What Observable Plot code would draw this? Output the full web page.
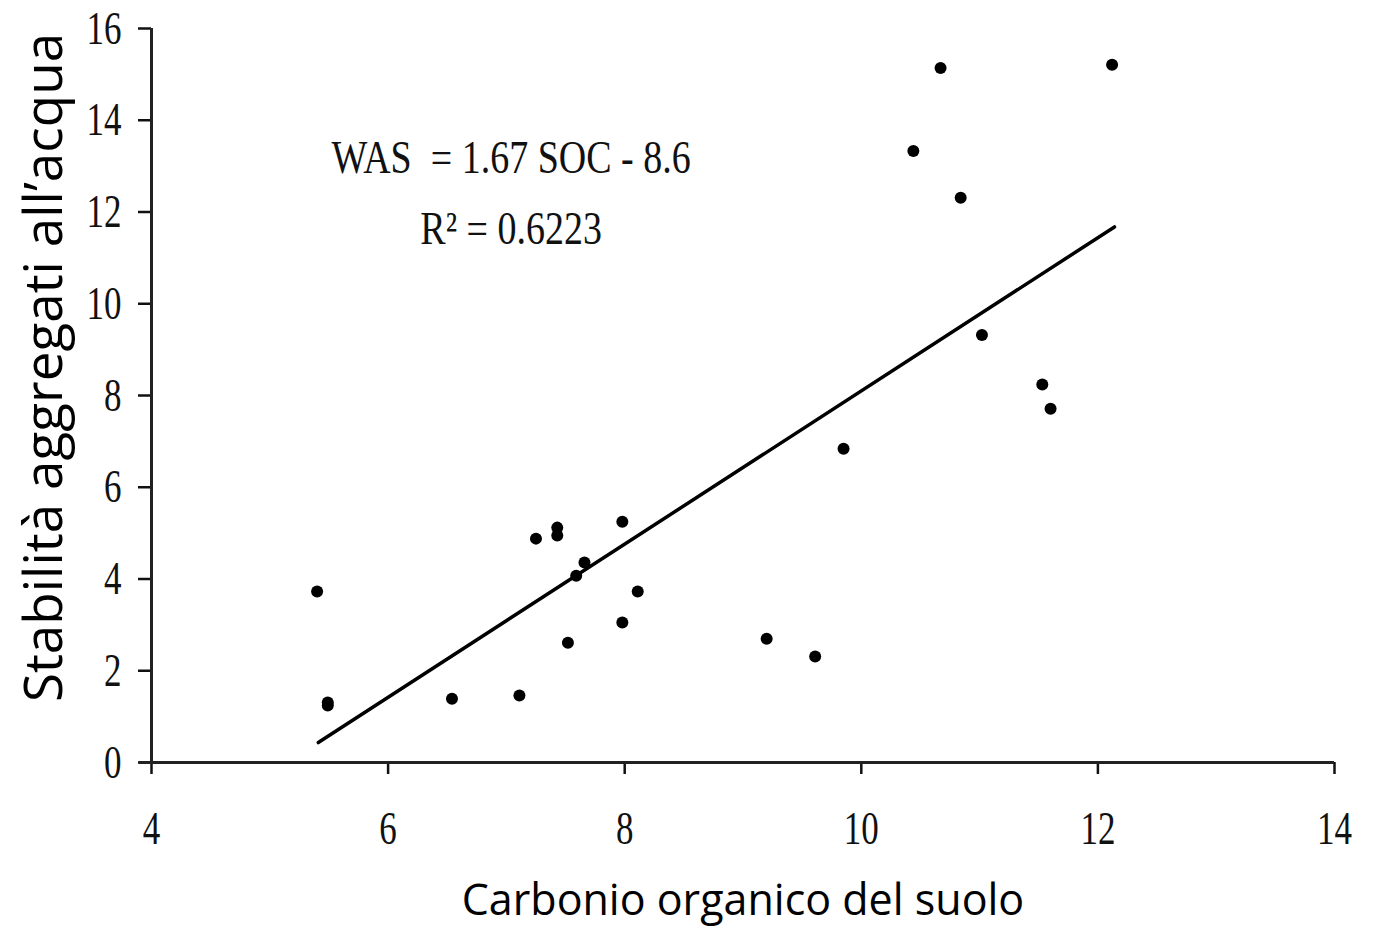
<!DOCTYPE html>
<html><head><meta charset="utf-8">
<script src="https://cdn.jsdelivr.net/npm/d3@7"></script>
<script src="https://cdn.jsdelivr.net/npm/@observablehq/plot@0.6"></script>
<style>
html,body{margin:0;padding:0;background:#fff;}
#chart svg{display:block;}
</style></head><body><div id="chart"></div>
<script>
const socValues = [5.40, 5.49, 5.49, 6.54, 7.11, 7.25, 7.43, 7.43, 7.52, 7.59, 7.66, 7.98, 7.98, 8.11, 9.20, 9.61, 9.85, 10.44, 10.67, 10.84, 11.02, 11.53, 11.60, 12.12];
const wasValues = [3.73, 1.31, 1.24, 1.39, 1.46, 4.88, 5.12, 4.95, 2.61, 4.07, 4.36, 5.25, 3.05, 3.73, 2.70, 2.31, 6.84, 13.33, 15.14, 12.31, 9.32, 8.24, 7.71, 15.21];
const fitX = [5.41, 12.14];
const fitSlope = 1.67;
const fitIntercept = -8.6;
const xTicks = [4, 6, 8, 10, 12, 14];
const yTicks = [0, 2, 4, 6, 8, 10, 12, 14, 16];
const eqLines = ["WAS\u00A0 = 1.67 SOC - 8.6", "R² = 0.6223"];
const eqX = [7.04, 7.04];
const eqY = [13.16, 11.63];
const xLabel = "Carbonio organico del suolo";
const yLabel = "Stabilità aggregati all’acqua";

const points = socValues.map((x, i) => ({x, y: wasValues[i]}));
const fit = fitX.map(x => ({x, y: fitSlope * x + fitIntercept}));
const eq = eqLines.map((t, i) => ({t, x: eqX[i], y: eqY[i]}));

const serif = "'Liberation Serif', 'Times New Roman', serif";
const sans = "'Open Sans', 'Noto Sans', sans-serif";

const plot = Plot.plot({
  width: 1383, height: 929,
  marginLeft: 151, marginRight: 49, marginTop: 28, marginBottom: 167,
  style: {background: "#fff", color: "#111"},
  x: {domain: [4, 14], label: null},
  y: {domain: [0, 16], label: null},
  marks: [
    Plot.axisX({ticks: xTicks, tickSize: 12, tickPadding: 36, fontFamily: serif, fontSize: 35, strokeWidth: 2.5, label: null, className: "stretch-tick"}),
    Plot.axisY({ticks: yTicks, tickSize: 13, tickPadding: 17, fontFamily: serif, fontSize: 35, strokeWidth: 2.5, label: null, className: "stretch-tick"}),
    Plot.ruleY([0], {x1: 3.9, x2: 14, stroke: "#222", strokeWidth: 3}),
    Plot.ruleX([4], {y1: 0, y2: 16, stroke: "#222", strokeWidth: 3}),
    Plot.line(fit, {x: "x", y: "y", stroke: "#000", strokeWidth: 3.5}),
    Plot.dot(points, {x: "x", y: "y", r: 6, fill: "#000", stroke: "none"}),
    Plot.text(eq, {x: "x", y: "y", text: "t", fontFamily: serif, fontSize: 38, fill: "#111", className: "stretch-eq"}),
    Plot.text([xLabel], {frameAnchor: "bottom", lineAnchor: "middle", textAnchor: "middle", dy: 139, fontFamily: sans, fontSize: 43, fill: "#000"}),
    Plot.text([yLabel], {frameAnchor: "left", lineAnchor: "middle", textAnchor: "middle", dx: -106, dy: -28, rotate: -90, fontFamily: sans, fontSize: 53, fill: "#000"})
  ]
});

function stretch(selector, sy) {
  plot.querySelectorAll(selector).forEach(t => {
    let tr = t.getAttribute("transform");
    if (!tr) {
      const x = +(t.getAttribute("x") || 0), y = +(t.getAttribute("y") || 0);
      t.removeAttribute("x"); t.removeAttribute("y");
      tr = `translate(${x},${y})`;
    }
    t.setAttribute("transform", tr + ` scale(1,${sy})`);
  });
}
stretch(".stretch-tick text", 1.35);
stretch(".stretch-eq text", 1.2);

document.getElementById("chart").appendChild(plot);
</script>
</body></html>
